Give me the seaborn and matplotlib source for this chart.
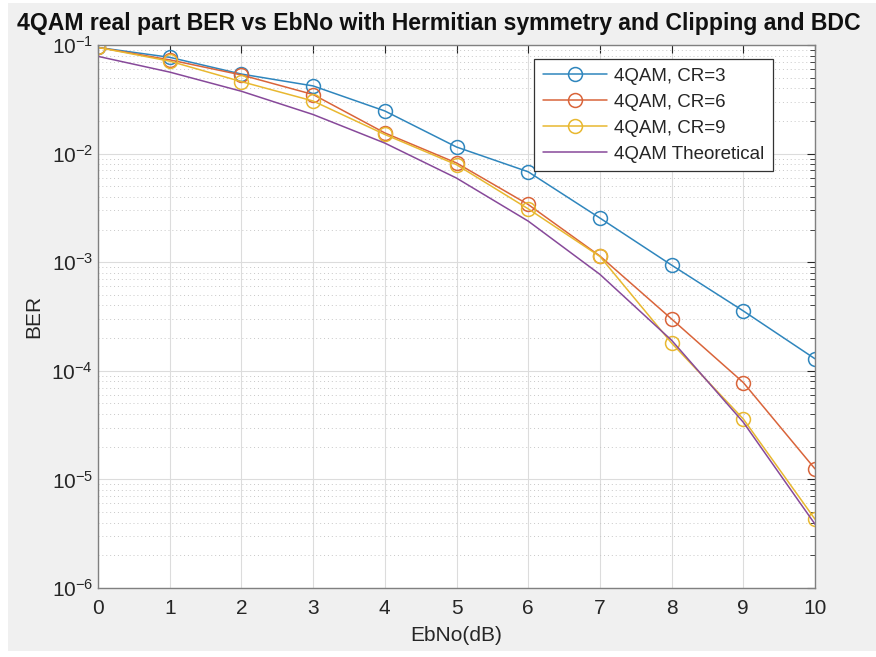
import numpy as np
import pandas as pd
import matplotlib
matplotlib.use("Agg")
import matplotlib.pyplot as plt
from matplotlib.patches import Rectangle
from matplotlib.ticker import LogLocator, NullFormatter
import seaborn as sns

ebno = [0, 1, 2, 3, 4, 5, 6, 7, 8, 9, 10]
ber_cr3 = [0.095, 0.077, 0.054, 0.042, 0.0247, 0.0115, 0.0068, 0.00255, 0.00094, 0.000356, 0.000129]
ber_cr6 = [0.095, 0.073, 0.053, 0.035, 0.0155, 0.0082, 0.0034, 0.00114, 0.00030, 7.8e-5, 1.25e-5]
ber_cr9 = [0.095, 0.071, 0.046, 0.0305, 0.0150, 0.0079, 0.0031, 0.00113, 0.00018, 3.6e-5, 4.3e-6]
ber_theory = [0.0786, 0.0563, 0.0375, 0.0229, 0.0125, 0.00595, 0.00239, 0.000773, 0.000191, 3.36e-5, 3.87e-6]

labels = ["4QAM, CR=3", "4QAM, CR=6", "4QAM, CR=9", "4QAM Theoretical"]
colors = ["#2f86bd", "#d9643a", "#e8b830", "#87499a"]
series = [ber_cr3, ber_cr6, ber_cr9, ber_theory]

sns.set_style("white")
plt.rcParams["font.family"] = ["Liberation Sans", "DejaVu Sans"]
plt.rcParams["axes.unicode_minus"] = False

fig = plt.figure(figsize=(8.76, 6.57), dpi=100, facecolor="white")
fig.patches.append(Rectangle((8/876, 6/657), 1 - 8/876, 1 - 9/657,
                             transform=fig.transFigure, facecolor="#f0f0f0",
                             edgecolor="none", zorder=-10))
ax = fig.add_axes([98/876, 1 - 588/657, (815 - 98)/876, (588 - 45)/657])
ax.set_facecolor("white")

for lab, col, vals in zip(labels, colors, series):
    df = pd.DataFrame({"EbNo": ebno, "BER": vals})
    if "Theoretical" in lab:
        sns.lineplot(data=df, x="EbNo", y="BER", ax=ax, color=col, lw=1.1, label=lab)
    else:
        sns.lineplot(data=df, x="EbNo", y="BER", ax=ax, color=col, lw=1.1, label=lab,
                     marker="o", markersize=10, markerfacecolor="none",
                     markeredgecolor=col, markeredgewidth=1.1)

ax.set_yscale("log")
ax.set_xlim(0, 10)
ax.set_ylim(1e-6, 1e-1)
ax.set_xticks(range(0, 11))
ax.yaxis.set_major_locator(LogLocator(base=10, numticks=10))
ax.yaxis.set_minor_locator(LogLocator(base=10, subs=np.arange(2, 10), numticks=20))
ax.yaxis.set_minor_formatter(NullFormatter())

ax.grid(True, which="major", color="#dcdcdc", lw=0.8)
ax.grid(True, which="minor", axis="y", color="#c8c8c8", lw=0.7, ls=(0, (1, 3)))
ax.set_axisbelow(True)

ax.tick_params(axis="both", which="both", direction="in", top=True, right=True,
               colors="#262626", labelsize=15, labelcolor="#262626")
ax.tick_params(axis="both", which="major", length=6, width=0.8)
ax.tick_params(axis="y", which="minor", length=3.5, width=0.6)
ax.tick_params(axis="x", pad=8)
for s in ax.spines.values():
    s.set_color("#808080")
    s.set_linewidth(1.0)

ax.set_xlabel("EbNo(dB)", fontsize=15, color="#262626", labelpad=6)
ax.set_ylabel("BER", fontsize=15, color="#262626", labelpad=6)
ax.set_title("4QAM real part BER vs EbNo with Hermitian symmetry and Clipping and BDC",
             fontsize=16.6, fontweight="bold", color="#111111", pad=11,
             x=(439 - 98) / 717)

leg = ax.legend(loc="upper right", bbox_to_anchor=(0.941, 0.974), borderaxespad=0,
                fontsize=13.5, frameon=True, fancybox=False, framealpha=1,
                edgecolor="#333333", borderpad=0.45, labelspacing=0.48,
                handlelength=3.4, handletextpad=0.4)
leg.get_frame().set_linewidth(0.9)

fig.savefig("out.png", dpi=100, facecolor=fig.get_facecolor())
